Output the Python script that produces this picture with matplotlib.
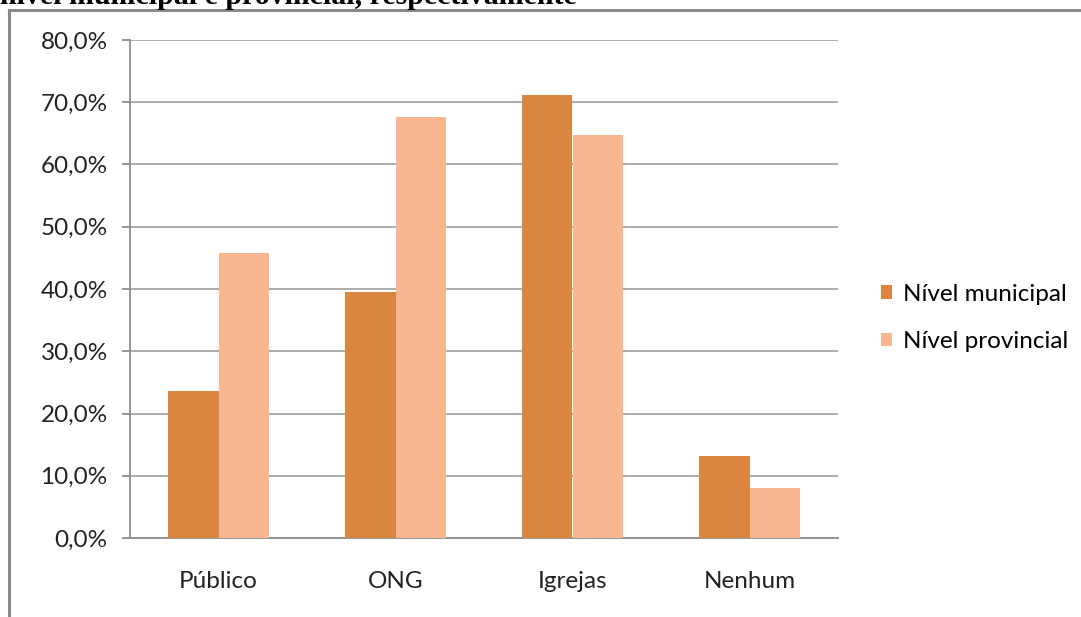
"""
Apoio recebido por tipo de instituição, a nível municipal e provincial.
"""

import matplotlib
matplotlib.use("Agg")
import matplotlib.pyplot as plt
import numpy as np
from matplotlib.lines import Line2D

# =============================================================================
# Data
# =============================================================================

categories = ["Público", "ONG", "Igrejas", "Nenhum"]
municipal  = [23.6, 39.5, 71.2, 13.2]
provincial = [45.8, 67.6, 64.8, 8.0]
series_labels = ["Nível municipal", "Nível provincial"]

COLOR_MUN  = "#DA8540"
COLOR_PROV = "#F9B690"
AXIS_GRAY  = "#8C8C8C"
GRID_GRAY  = "#A6A6A6"
FS = 17.5

plt.rcParams["font.family"] = ["Lato", "DejaVu Sans"]

# =============================================================================
# Plot
# =============================================================================

W, H = 1081, 617
fig = plt.figure(figsize=(W / 100, H / 100), dpi=100)

# caption line running off the top edge, and the outer chart frame
fig.text(0 / W, 1 - 4 / H, "nível municipal e provincial, respectivamente",
         family="Liberation Serif", fontweight="bold", fontsize=21.5,
         va="baseline", ha="left", color="black")
fig.add_artist(Line2D([9 / W, 1.0], [1 - 10 / H, 1 - 10 / H],
                      color="#8A8A8A", linewidth=2.2))
fig.add_artist(Line2D([9 / W, 9 / W], [0, 1 - 10 / H],
                      color="#8A8A8A", linewidth=2.2))

ax = fig.add_axes([130 / W, 1 - 538 / H, 708 / W, 498 / H])

x = np.arange(len(categories))
bw = 0.285
ax.bar(x - bw / 2, municipal, width=bw, color=COLOR_MUN,
       label=series_labels[0], zorder=3)
ax.bar(x + bw / 2, provincial, width=bw, color=COLOR_PROV,
       label=series_labels[1], zorder=3)

ax.set_xlim(-0.5, len(categories) - 0.5)
ax.set_ylim(0, 80)
yt = np.arange(0, 81, 10)
ax.set_yticks(yt)
ax.set_yticklabels([f"{v:.1f}%".replace(".", ",") for v in yt], fontsize=FS)
ax.set_xticks(x)
ax.set_xticklabels(categories, fontsize=FS)

ax.grid(axis="y", color=GRID_GRAY, linewidth=1.3, zorder=0)
for side in ("top", "right"):
    ax.spines[side].set_visible(False)
for side in ("left", "bottom"):
    ax.spines[side].set_color(AXIS_GRAY)
    ax.spines[side].set_linewidth(1.3)
ax.tick_params(axis="y", length=6, width=1.3, color=AXIS_GRAY,
               pad=10, labelcolor="#222222")
ax.tick_params(axis="x", length=0, pad=24, labelcolor="#222222")

ax.legend(loc="center left", bbox_to_anchor=(869 / W, 1 - 318 / H),
          bbox_transform=fig.transFigure, frameon=False, fontsize=FS,
          handlelength=0.45, handleheight=0.45, handletextpad=0.45,
          labelspacing=1.1, borderpad=0)

plt.savefig("out.png", dpi=100)
plt.close()
